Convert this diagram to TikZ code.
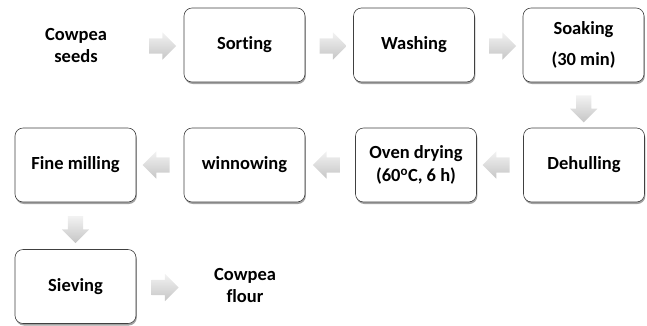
\documentclass[tikz,border=0pt]{standalone}
\usepackage{fontspec}
\setmainfont{Carlito}[Ligatures=NoCommon]
\usetikzlibrary{shapes.arrows,shadows,calc}
\tikzset{
  stepbox/.style={draw=black!75, line width=0.6pt, rounded corners=8pt, fill=white,
    minimum width=121pt, minimum height=74pt, align=center,
    font=\fontsize{18.5}{23}\selectfont\bfseries,
    drop shadow={shadow xshift=0.8pt, shadow yshift=-2pt, fill=black!60, opacity=0.6}},
  plain/.style={align=center, font=\fontsize{18.5}{22}\selectfont\bfseries},
  flowarrow/.style={single arrow, draw=none, minimum height=27pt, inner xsep=0pt,
    inner ysep=7.5pt, single arrow head extend=6pt,
    top color=gray!10, bottom color=gray!45},
  leftarrow/.style={flowarrow, xscale=-1},
  downarrow/.style={flowarrow, rotate=-90}
}
\begin{document}
\begin{tikzpicture}[x=1pt,y=-1pt]
\useasboundingbox (0,0) rectangle (647,325);
\node[plain] (seeds) at (76,45) {Cowpea\\seeds};
\node[stepbox] (sort) at (244.5,45) {Sorting};
\node[stepbox] (wash) at (414,45) {Washing};
\node[stepbox] (soak) at (583.5,45) {Soaking\\[8pt](30 min)};
\node[stepbox] (dehull) at (584,165) {Dehulling};
\node[stepbox] (oven) at (416,165) {Oven drying\\(60\textsuperscript{o}C, 6 h)};
\node[stepbox] (winn) at (244.5,165) {winnowing};
\node[stepbox] (mill) at (75.5,165) {Fine milling};
\node[stepbox] (sieve) at (75.5,286.5) {Sieving};
\node[plain] (flour) at (245,285) {Cowpea\\flour};

\node[flowarrow] (a1) at ($(sort.west)+(-25,1)$) {};
\node[flowarrow] (a2) at ($(sort.east)!0.5!(wash.west)+(0,1)$) {};
\node[flowarrow] (a3) at ($(wash.east)!0.5!(soak.west)+(0,1)$) {};
\node[downarrow] (a4) at ($(soak.south)!0.5!(dehull.north)$) {};
\node[leftarrow] (a5) at ($(dehull.west)!0.5!(oven.east)$) {};
\node[leftarrow] (a6) at ($(oven.west)!0.5!(winn.east)$) {};
\node[leftarrow] (a7) at ($(winn.west)!0.5!(mill.east)$) {};
\node[downarrow] (a8) at ($(mill.south)!0.5!(sieve.north)$) {};
\node[flowarrow] (a9) at ($(sieve.east)+(25,1)$) {};
\end{tikzpicture}
\end{document}
